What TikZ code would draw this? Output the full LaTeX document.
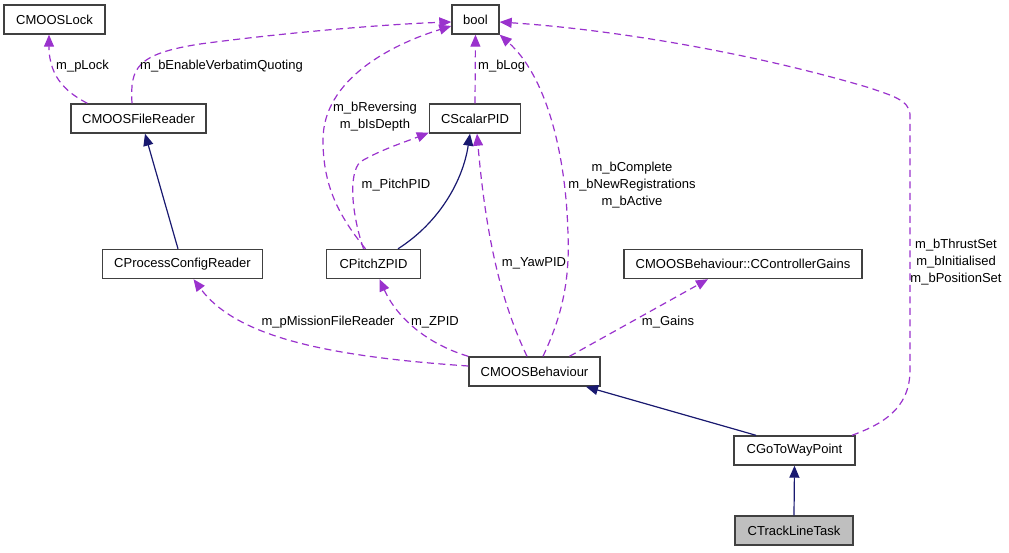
\documentclass[tikz,border=0pt]{standalone}
\usepackage{fontspec}
\setmainfont{Liberation Sans}
\usepackage{tikz}
\usetikzlibrary{arrows.meta}
\definecolor{edgepurple}{HTML}{9A32CD}
\definecolor{edgenavy}{HTML}{191970}
\definecolor{boxgray}{HTML}{404040}

\begin{document}
\begin{tikzpicture}[x=1pt,y=-1pt,
  cls/.style={draw=boxgray, line width=1.4pt, minimum height=29pt, inner sep=0pt, font=\fontsize{13}{15}\selectfont},
  usage/.style={draw=edgepurple, line width=1.2pt, dash pattern=on 7pt off 4.5pt, -{Triangle[length=12pt,width=10pt]}},
  inherit/.style={draw=edgenavy, line width=1.2pt, -{Triangle[length=12pt,width=10pt]}},
  lbl/.style={font=\fontsize{13}{17}\selectfont, align=center, inner sep=0pt}]
\useasboundingbox (0,0) rectangle (1009,552);
% classes
\node[cls, minimum width=101pt] (lock) at (54.5,19.5) {CMOOSLock};
\node[cls, minimum width=47pt] (bool) at (475.5,19.5) {bool};
\node[cls, minimum width=135pt] (filereader) at (138.5,118.5) {CMOOSFileReader};
\node[cls, minimum width=91pt] (scalarpid) at (475,118.5) {CScalarPID};
\node[cls, minimum width=160pt] (configreader) at (182.5,264) {CProcessConfigReader};
\node[cls, minimum width=94pt] (pitchzpid) at (373.5,264) {CPitchZPID};
\node[cls, minimum width=238pt] (gains) at (743,264) {CMOOSBehaviour::CControllerGains};
\node[cls, minimum width=131pt] (behaviour) at (534.5,371.5) {CMOOSBehaviour};
\node[cls, minimum width=121pt] (gotowp) at (794.5,450.5) {CGoToWayPoint};
\node[cls, minimum width=118pt, fill=black!25] (trackline) at (794,530.5) {CTrackLineTask};
% inheritance
\draw[inherit] ([xshift=-4.5pt]configreader.north) -- ([xshift=6.5pt]filereader.south);
\draw[inherit] ([xshift=24.5pt]pitchzpid.north) .. controls (440,222) and (463,180) .. ([xshift=-5pt]scalarpid.south);
\draw[inherit] ([xshift=-38.5pt]gotowp.north) -- ([xshift=51.5pt]behaviour.south);
\draw[inherit] (trackline.north) -- (gotowp.south);
% members
\draw[usage] ([xshift=17pt]filereader.north west) .. controls (70,94) and (49,80) .. ([xshift=-5.5pt]lock.south);
\draw[usage] ([xshift=-6.5pt]filereader.north) .. controls (130,68) and (136,54) .. (200,44) .. controls (290,32) and (390,24) .. ([yshift=-2.5pt]bool.west);
\draw[usage] (scalarpid.north) -- (bool.south);
\draw[usage] ([xshift=-10pt]pitchzpid.north) .. controls (352,215) and (348,175) .. (360,162) .. controls (380,150) and (405,142) .. ([yshift=1pt]scalarpid.south west);
\draw[usage] ([xshift=-8pt]pitchzpid.north) .. controls (338,215) and (323,185) .. (323,140) .. controls (323,80) and (390,45) .. ([yshift=-6.5pt]bool.west);
\draw[usage] ([xshift=-7.5pt]behaviour.north) .. controls (505,310) and (487,250) .. ([xshift=2pt]scalarpid.south);
\draw[usage] ([xshift=8.5pt]behaviour.north) .. controls (560,320) and (570,285) .. (568,235) .. controls (566,150) and (545,75) .. (bool.south east);
\draw[usage] (behaviour.north west) .. controls (430,345) and (398,320) .. ([xshift=6pt]pitchzpid.south);
\draw[usage] ([yshift=5.5pt]behaviour.west) .. controls (320,356) and (235,335) .. ([xshift=11pt]configreader.south);
\draw[usage] ([xshift=35pt]behaviour.north) -- ([xshift=-35pt]gains.south);
\draw[usage] ([xshift=57.5pt]gotowp.north) .. controls (880,425) and (910,410) .. (910,370) -- (910,115) .. controls (910,100) and (890,95) .. (870,88) .. controls (760,55) and (620,30) .. ([yshift=-2.5pt]bool.east);
% labels
\node[lbl, anchor=west] (lblplock) at (56,66) {m\_pLock};
\node[lbl, anchor=west] (lblverbatim) at (140,66) {m\_bEnableVerbatimQuoting};
\node[lbl, anchor=west] (lblblog) at (478,66) {m\_bLog};
\node[lbl] (lblreversing) at (375,117) {m\_bReversing\\m\_bIsDepth};
\node[lbl] (lblpitchpid) at (396,185) {m\_PitchPID};
\node[lbl] (lblcomplete) at (632,185) {m\_bComplete\\m\_bNewRegistrations\\m\_bActive};
\node[lbl] (lblyawpid) at (534,263) {m\_YawPID};
\node[lbl] (lblthrust) at (956,262) {m\_bThrustSet\\m\_bInitialised\\m\_bPositionSet};
\node[lbl] (lblmission) at (328,322) {m\_pMissionFileReader};
\node[lbl] (lblzpid) at (435,322) {m\_ZPID};
\node[lbl] (lblgains) at (668,322) {m\_Gains};
\end{tikzpicture}
\end{document}
